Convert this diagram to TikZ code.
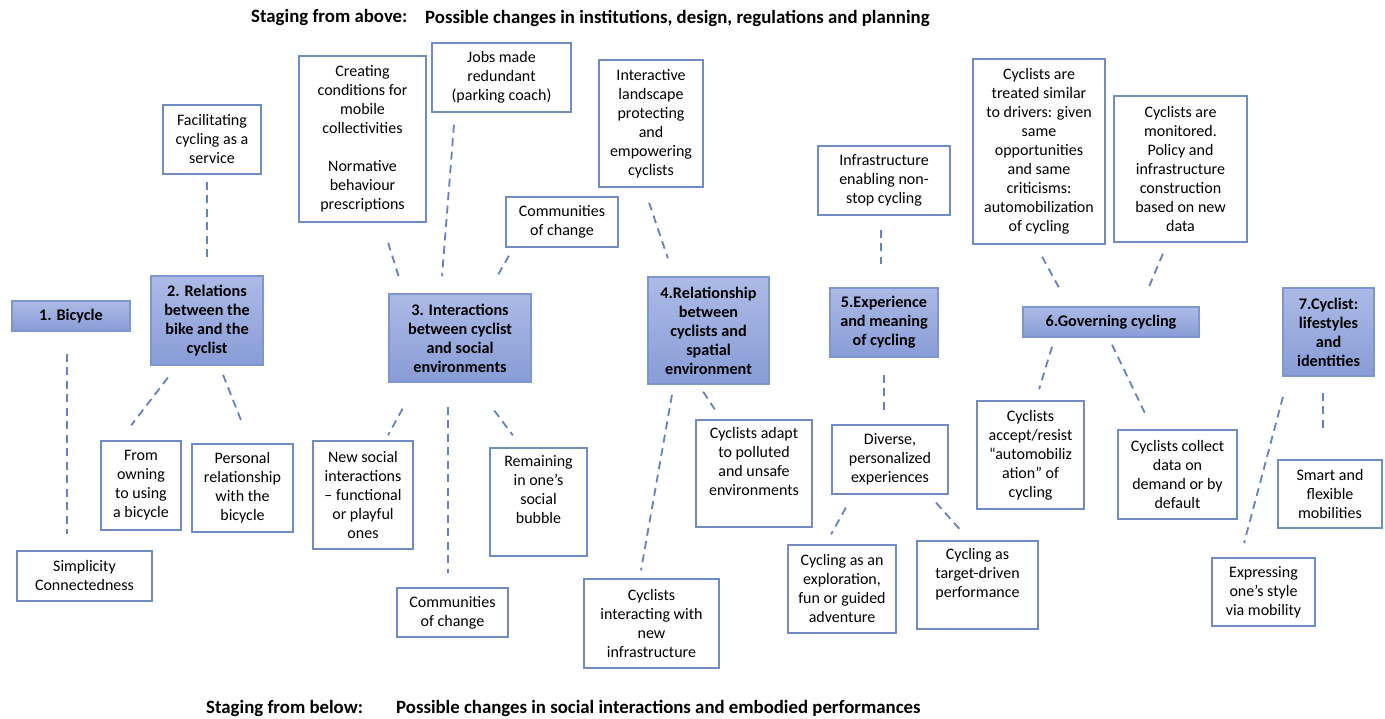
\documentclass[tikz,border=0pt]{standalone}
\usepackage{fontspec}
\setmainfont{Carlito}
\usepackage{xcolor}
\usetikzlibrary{positioning,calc}
\definecolor{boxline}{RGB}{112,140,196}
\definecolor{themeline}{RGB}{125,150,210}
\definecolor{themetop}{RGB}{172,186,230}
\definecolor{themebot}{RGB}{136,156,214}
\definecolor{linkcol}{RGB}{100,130,190}

\begin{document}
\begin{tikzpicture}[x=1pt,y=-1pt,
    item/.style 2 args={draw=boxline, line width=1.6pt, fill=white, align=center, inner sep=0pt,
        minimum width=#1pt, minimum height=#2pt, font=\fontsize{16}{19}\selectfont},
    theme/.style 2 args={draw=themeline, line width=1.6pt, top color=themetop, bottom color=themebot,
        align=center, inner sep=0pt, minimum width=#1pt, minimum height=#2pt,
        font=\fontsize{16.2}{19}\selectfont\bfseries},
    link/.style={draw=linkcol, line width=1.8pt, dash pattern=on 8pt off 5.5pt},
    heading/.style={anchor=west, inner sep=0pt, font=\fontsize{18.8}{22}\selectfont\bfseries}]
    \fill[white] (0,0) rectangle (1385,719);
    \useasboundingbox (0,0) rectangle (1385,719);

    % Headings
    \node[heading] (above) at (251,18) {Staging from above:};
    \node[heading] (abovetxt) at (425,18) {Possible changes in institutions, design, regulations and planning};
    \node[heading] (below) at (206,708) {Staging from below:};
    \node[heading] (belowtxt) at (396,708) {Possible changes in social interactions and embodied performances};

    % 1. Bicycle
    \node[theme={118}{30}] (bike) at (71,316) {1. Bicycle};
    \node[item={135}{50}] (simp) at (84.5,576) {Simplicity\\Connectedness};

    % 2. Relations
    \node[theme={112}{89}] (rel) at (207,320.5) {2. Relations\\between the\\bike and the\\cyclist};
    \node[item={98}{69}] (fac) at (212,139.5) {Facilitating\\cycling as a\\service};
    \node[item={80}{89}] (own) at (141,485.5) {From\\owning\\to using\\a bicycle};
    \node[item={101}{88}] (pers) at (242.5,488) {Personal\\relationship\\with the\\bicycle};

    % 3. Interactions
    \node[theme={142}{88}] (soc) at (460,338) {3. Interactions\\between cyclist\\and social\\environments};
    \node[item={127}{166}] (crea) at (362.5,139) {Creating\\conditions for\\mobile\\collectivities\\[19pt]Normative\\behaviour\\prescriptions};
    \node[item={139}{69}] (jobs) at (501.5,77.5) {Jobs made\\redundant\\(parking coach)};
    \node[item={112}{50}] (comtop) at (562,222) {Communities\\of change};
    \node[item={100}{108}] (newsoc) at (363,495) {New social\\interactions\\– functional\\or playful\\ones};
    \node[item={97}{108}] (rem) at (538.5,502) {Remaining\\in one’s\\social\\bubble\\\strut};
    \node[item={111}{49}] (combot) at (452.5,612.5) {Communities\\of change};

    % 4. Relationship
    \node[theme={121}{107}] (spat) at (708.5,330.5) {4.Relationship\\between\\cyclists and\\spatial\\environment};
    \node[item={104}{127}] (inter) at (651,123.5) {Interactive\\landscape\\protecting\\and\\empowering\\cyclists};
    \node[item={116}{107}] (adapt) at (754,473.5) {Cyclists adapt\\to polluted\\and unsafe\\environments\\\strut};
    \node[item={135}{89}] (newinf) at (651.5,623.5) {Cyclists\\interacting with\\new\\infrastructure};

    % 5. Experience
    \node[theme={108}{69}] (exp) at (884,322.5) {5.Experience\\and meaning\\of cycling};
    \node[item={132}{69}] (nonstop) at (884,180.5) {Infrastructure\\enabling non-\\stop cycling};
    \node[item={116}{69}] (div) at (890,459.5) {Diverse,\\personalized\\experiences};
    \node[item={108}{88}] (explo) at (842,589) {Cycling as an\\exploration,\\fun or guided\\adventure};
    \node[item={121}{88}] (target) at (977.5,585) {Cycling as\\target-driven\\performance\\\strut};

    % 6. Governing
    \node[theme={176}{30}] (gov) at (1111,322) {6.Governing cycling};
    \node[item={132}{185}] (similar) at (1039,151.5) {Cyclists are\\treated similar\\to drivers: given\\same\\opportunities\\and same\\criticisms:\\automobilization\\of cycling};
    \node[item={133}{146}] (monit) at (1180.5,169) {Cyclists are\\monitored.\\Policy and\\infrastructure\\construction\\based on new\\data};
    \node[item={107}{108}] (accept) at (1030.5,455) {Cyclists\\accept/resist\\“automobiliz\\ation” of\\cycling};
    \node[item={119}{89}] (collect) at (1177.5,474.5) {Cyclists collect\\data on\\demand or by\\default};

    % 7. Cyclist
    \node[theme={91}{88}] (life) at (1328.5,332) {7.Cyclist:\\lifestyles\\and\\identities};
    \node[item={104}{68}] (smart) at (1330,494) {Smart and\\flexible\\mobilities};
    \node[item={103}{68}] (expr) at (1263.5,592) {Expressing\\one’s style\\via mobility};

    % Links
    \draw[link, shorten <=22pt, shorten >=16pt] ([xshift=-4pt]bike.south) -- ([xshift=-17.5pt]simp.north);
    \draw[link, shorten <=7pt, shorten >=14pt] ([xshift=-5pt]fac.south) -- (rel.north);
    \draw[link, shorten <=15pt, shorten >=18.8pt] ([xshift=-30pt]rel.south) -- ([xshift=-21.3pt]own.north);
    \draw[link, shorten <=9.7pt, shorten >=22.5pt] ([xshift=12.5pt]rel.south) -- ([xshift=7.6pt]pers.north);
    \draw[link, shorten <=20.9pt, shorten >=16.7pt] ([xshift=19.4pt]crea.south) -- ([xshift=-56.1pt]soc.north);
    \draw[link, shorten <=12pt, shorten >=17pt] ([xshift=-46.6pt]jobs.south) -- ([xshift=-19.3pt]soc.north);
    \draw[link, shorten <=9.1pt, shorten >=21.7pt] ([xshift=-48.6pt]comtop.south) -- ([xshift=27.6pt]soc.north);
    \draw[link, shorten <=29.5pt, shorten >=5.7pt] ([xshift=-43.1pt]soc.south) -- ([xshift=22.3pt]newsoc.north);
    \draw[link, shorten <=24pt, shorten >=14pt] ([xshift=-12pt]soc.south) -- ([xshift=-4.5pt]combot.north);
    \draw[link, shorten <=34.7pt, shorten >=14.9pt] ([xshift=13.5pt]soc.south) -- ([xshift=-16.7pt]rem.north);
    \draw[link, shorten <=15.8pt, shorten >=19pt] ([xshift=-7pt]inter.south) -- ([xshift=-34.5pt]spat.north);
    \draw[link, shorten <=10.2pt, shorten >=8.1pt] ([xshift=-34.75pt]spat.south) -- ([xshift=-11.9pt]newinf.north);
    \draw[link, shorten <=8.3pt, shorten >=11.8pt] ([xshift=-9.9pt]spat.south) -- ([xshift=-32.7pt]adapt.north);
    \draw[link, shorten <=14pt, shorten >=23pt] ([xshift=-3pt]nonstop.south) -- ([xshift=-3pt]exp.north);
    \draw[link, shorten <=17pt, shorten >=13pt] (exp.south) -- ([xshift=-6pt]div.north);
    \draw[link, shorten <=14.7pt, shorten >=11.3pt] ([xshift=-37pt]div.south) -- ([xshift=-16.4pt]explo.north);
    \draw[link, shorten <=10.5pt, shorten >=14.5pt] ([xshift=39.1pt]div.south) -- ([xshift=-8.1pt]target.north);
    \draw[link, shorten <=13.6pt, shorten >=21.5pt] ([xshift=-3.4pt]similar.south) -- ([xshift=-41.9pt]gov.north);
    \draw[link, shorten <=11.9pt, shorten >=21.6pt] ([xshift=-13pt]monit.south) -- ([xshift=29.8pt]gov.north);
    \draw[link, shorten <=9.4pt, shorten >=11.5pt] ([xshift=-56.3pt]gov.south) -- ([xshift=5.3pt]accept.north);
    \draw[link, shorten <=7.7pt, shorten >=15.5pt] ([xshift=-2.3pt]gov.south) -- ([xshift=-24.9pt]collect.north);
    \draw[link, shorten <=20.7pt, shorten >=14.5pt] ([xshift=-40.2pt]life.south) -- ([xshift=-23.2pt]expr.north);
    \draw[link, shorten <=16pt, shorten >=31pt] ([xshift=-5.5pt]life.south) -- ([xshift=-7pt]smart.north);
\end{tikzpicture}
\end{document}
